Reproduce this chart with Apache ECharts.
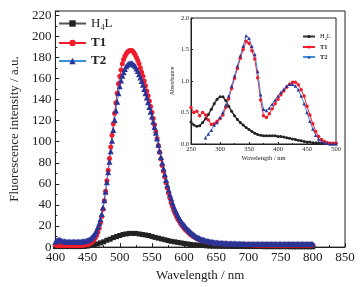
<!DOCTYPE html>
<html>
<head>
<meta charset="utf-8">
<script src="https://cdn.jsdelivr.net/npm/echarts@6/dist/echarts.min.js"></script>
<style>
  html, body { margin: 0; padding: 0; background: #fff; }
  #main { width: 360px; height: 287px; }
</style>
</head>
<body>
<div id="main"></div>
<script>
// emission spectra of T1 / T2, 400-800 nm every 2 nm
const emStart = 400, emStep = 2;
const emT1 = [
  2, 2, 1.8, 1.6, 1.5, 1.5, 1.5, 1.5, 1.5, 1.5, 1.5, 1.5, 1.5, 1.5, 1.5, 1.5, 1.5, 1.5, 1.5, 1.6, 1.7, 1.8, 1.9, 2, 2.2,
  2.5, 3, 3.5, 4.3, 5.5, 7, 8.8, 11, 14, 18, 23, 29, 36, 44, 53, 63, 73, 84, 95, 106, 117, 127, 137, 146, 155,
  162, 168, 174, 178, 181, 183.5, 185, 186, 186.5, 186.5, 186, 184.5, 182.5, 180, 177, 174, 170, 166, 162, 157.5, 153, 148, 143.5, 138.5, 133.5,
  128, 122, 116, 109.5, 103, 96.5, 90, 83.5, 77.5, 72, 66.5, 61, 56, 51, 46.5, 42, 38.5, 35, 32, 29.5, 27, 25, 23, 21, 19.5,
  18, 16.8, 15.6, 14.4, 13.2, 12, 11.2, 10.4, 9.6, 8.8, 8, 7.6, 7.2, 6.8, 6.4, 6, 5.6, 5.2, 4.9, 4.7, 4.5, 4.3, 4.1, 3.9, 3.7,
  3.6, 3.5, 3.4, 3.3, 3.2, 3.1, 3, 2.9, 2.9, 2.8, 2.8, 2.7, 2.7, 2.6, 2.6, 2.6, 2.5, 2.5, 2.5, 2.4, 2.4, 2.4, 2.3, 2.3, 2.3,
  2.2, 2.2, 2.2, 2.2, 2.1, 2.1, 2.1, 2.1, 2.1, 2.1, 2.1, 2, 2, 2, 2, 2, 2, 2, 2, 2, 2, 2, 2, 2, 2,
  2, 2, 2, 2, 2, 2, 2, 2, 2, 2, 2, 2, 2, 2, 2, 2, 2, 2, 2, 2, 2, 2, 2, 2, 2, 2];
const emT2 = [
  5, 6, 7, 7, 6.5, 6, 5.5, 5.5, 5.2, 5, 5, 5, 5, 5, 5, 5, 5, 5, 5, 5, 5.2, 5.4, 5.6, 5.8, 6,
  6.3, 7, 7.8, 8.8, 10, 11.5, 13.5, 16, 19, 22.5, 26.5, 31.5, 37.5, 44.5, 52.5, 61.5, 71, 81, 91, 101, 111, 120.5, 129.5, 138, 146,
  152.5, 158, 162.5, 166, 169, 171.5, 173, 174, 174.5, 174.5, 174, 173, 171.5, 169.5, 167, 164, 161, 157.5, 154, 150, 146, 142, 137.5, 133, 128.5,
  124, 119, 114, 108.5, 103, 97, 91.5, 85.5, 80, 74.5, 69, 64, 59, 54.5, 50, 46, 42, 38.5, 35.5, 33, 30.5, 28, 26, 24, 22.5,
  21, 19.5, 18, 16.8, 15.6, 14.4, 13.3, 12.3, 11.3, 10.4, 9.6, 8.9, 8.3, 7.8, 7.3, 6.9, 6.5, 6.1, 5.8, 5.5, 5.2, 5, 4.8, 4.6, 4.4,
  4.3, 4.2, 4.1, 4, 3.9, 3.8, 3.7, 3.6, 3.6, 3.5, 3.5, 3.4, 3.4, 3.3, 3.3, 3.3, 3.2, 3.2, 3.2, 3.1, 3.1, 3.1, 3, 3, 3,
  3, 3, 3, 3, 3, 3, 3, 3, 3, 3, 3, 3, 3, 3, 3, 3, 3, 3, 3, 3, 3, 3, 3, 3, 3,
  3, 3, 3, 3, 3, 3, 3, 3, 3, 3, 3, 3, 3, 3, 3, 3, 3, 3, 3, 3, 3, 3, 3, 3, 3, 3];

// emission of H4L, 400-800 nm every 5 nm
const h4lStart = 400, h4lStep = 5;
const emH4L = [0.5, 0.5, 0.5, 0.5, 0.5, 0.5, 0.5, 0.5, 0.5, 0.6,
  1, 1.5, 2, 3, 4, 5, 6.5, 7.5, 9, 10,
  11, 12, 12.5, 13, 13, 13, 12.5, 12, 11.5, 11,
  10, 9.2, 8.5, 7.7, 7, 6.2, 5.5, 5, 4.5, 4,
  3.5, 3, 2.5, 2.2, 2, 1.7, 1.5, 1.2, 1, 0.9,
  0.8, 0.8, 0.7, 0.7, 0.7, 0.6, 0.6, 0.6, 0.6, 0.5,
  0.5, 0.5, 0.5, 0.5, 0.5, 0.4, 0.4, 0.4, 0.4, 0.4,
  0.4, 0.4, 0.4, 0.3, 0.3, 0.3, 0.3, 0.3, 0.3, 0.3, 0.3];

// absorption spectra (inset), 250-500 nm every 5 nm
const abStart = 250, abStep = 5;
const abH4L = [0.35, 0.30, 0.28, 0.29, 0.34, 0.40, 0.47, 0.55, 0.64, 0.71,
  0.75, 0.75, 0.69, 0.60, 0.52, 0.45, 0.39, 0.34, 0.30, 0.26,
  0.23, 0.20, 0.17, 0.15, 0.14, 0.13, 0.13, 0.13, 0.13, 0.13,
  0.12, 0.12, 0.11, 0.10, 0.09, 0.08, 0.07, 0.06, 0.05, 0.04,
  0.03, 0.03, 0.02, 0.02, 0.02, 0.01, 0.01, 0.01, 0.01, 0.01, 0.01];
const abT1 = [0.58, 0.50, 0.52, 0.45, 0.50, 0.46, 0.38, 0.31, 0.32, 0.36,
  0.40, 0.46, 0.58, 0.72, 0.88, 1.04, 1.20, 1.36, 1.50, 1.63,
  1.60, 1.48, 1.35, 1.05, 0.70, 0.45, 0.42, 0.48, 0.56, 0.64,
  0.71, 0.78, 0.84, 0.90, 0.95, 0.98, 0.98, 0.94, 0.86, 0.76,
  0.60, 0.46, 0.32, 0.20, 0.12, 0.07, 0.04, 0.02, 0.01, 0.01, 0.01];
const abT2 = [null, null, null, null, null, 0.10, 0.16, 0.22, 0.30, 0.34,
  0.42, 0.50, 0.62, 0.76, 0.92, 1.08, 1.24, 1.40, 1.55, 1.72,
  1.68, 1.55, 1.42, 1.15, 0.78, 0.55, 0.53, 0.57, 0.63, 0.70,
  0.76, 0.82, 0.87, 0.92, 0.95, 0.95, 0.92, 0.86, 0.76, 0.64,
  0.50, 0.36, 0.24, 0.14, 0.08, 0.04, 0.02, 0.01, 0, 0, 0];

const toPairs = (arr, start, step) => arr.map((v, i) => [start + i * step, v]);

const font = 'Liberation Serif';
const ink = '#222';
const red = '#f01c2c';
const navy = '#2a3597';
const sky = '#3d8fdc';

const chart = echarts.init(document.getElementById('main'));

const legendFormatter = function (name) {
  const n = name.replace('a-', '');
  if (n === 'H4L') return '{n|H}{s|4}{n|L}';
  return '{b|' + n + '}';
};

function mkSeries(name, data, xi, color, lineColor, symbol, size, lw) {
  return {
    name: name,
    type: 'line',
    xAxisIndex: xi,
    yAxisIndex: xi,
    data: data,
    symbol: symbol,
    symbolSize: size,
    showAllSymbol: true,
    connectNulls: false,
    z: xi === 1 ? 10 : 2,
    lineStyle: { color: lineColor, width: lw || 1 },
    itemStyle: { color: color },
    emphasis: { disabled: true },
    animation: false
  };
}

const option = {
  animation: false,
  backgroundColor: '#fff',
  textStyle: { fontFamily: font },
  grid: [
    { left: 50, top: 11, width: 295, height: 237, show: true, borderColor: ink, borderWidth: 1 },
    { left: 191, top: 18, width: 145, height: 126, show: true, borderColor: ink, borderWidth: 1 }
  ],
  legend: [
    {
      data: ['H4L', 'T1', 'T2'],
      orient: 'vertical', left: 53, top: 12,
      itemWidth: 27, itemHeight: 8, itemGap: 5,
      formatter: legendFormatter,
      textStyle: {
        fontFamily: font, fontSize: 13, color: ink,
        rich: {
          n: { fontFamily: font, fontSize: 13, color: ink },
          s: { fontFamily: font, fontSize: 8, color: ink, padding: [8, 0, 0, 0] },
          b: { fontFamily: font, fontSize: 13, fontWeight: 'bold', color: ink }
        }
      }
    },
    {
      data: ['a-H4L', 'a-T1', 'a-T2'],
      orient: 'vertical', left: 297, top: 28, z: 12,
      itemWidth: 12, itemHeight: 4, itemGap: 3,
      formatter: legendFormatter,
      textStyle: {
        fontFamily: font, fontSize: 6.5, color: ink,
        rich: {
          n: { fontFamily: font, fontSize: 6.5, color: ink },
          s: { fontFamily: font, fontSize: 4, color: ink, padding: [4, 0, 0, 0] },
          b: { fontFamily: font, fontSize: 6.5, fontWeight: 'bold', color: ink }
        }
      }
    }
  ],
  xAxis: [
    {
      type: 'value', gridIndex: 0, min: 400, max: 850, interval: 50,
      name: 'Wavelength / nm', nameLocation: 'middle', nameGap: 17,
      nameTextStyle: { fontFamily: font, fontSize: 13, color: ink },
      axisLine: { lineStyle: { color: ink } },
      axisTick: { inside: true, length: 4, lineStyle: { color: ink } },
      minorTick: { show: true, splitNumber: 2, length: 2, lineStyle: { color: ink } },
      axisLabel: { fontFamily: font, fontSize: 13, color: ink, margin: 4 },
      splitLine: { show: false }
    },
    {
      type: 'value', gridIndex: 1, min: 250, max: 500, interval: 50,
      name: 'Wavelength / nm', nameLocation: 'middle', nameGap: 11,
      nameTextStyle: { fontFamily: font, fontSize: 6.5, color: ink },
      axisLine: { lineStyle: { color: ink } },
      axisTick: { inside: true, length: 2, lineStyle: { color: ink } },
      minorTick: { show: true, splitNumber: 2, length: 1, lineStyle: { color: ink } },
      axisLabel: { fontFamily: font, fontSize: 6.5, color: ink, margin: 2 },
      splitLine: { show: false }
    }
  ],
  yAxis: [
    {
      type: 'value', gridIndex: 0, min: 0, max: 224, interval: 20,
      name: 'Fluorescence intensity / a.u.', nameLocation: 'middle', nameGap: 33,
      nameTextStyle: { fontFamily: font, fontSize: 13, color: ink },
      axisLine: { show: true, lineStyle: { color: ink } },
      axisTick: { show: true, inside: true, length: 4, lineStyle: { color: ink } },
      minorTick: { show: true, splitNumber: 2, length: 2, lineStyle: { color: ink } },
      axisLabel: { fontFamily: font, fontSize: 13, color: ink, margin: 4, showMaxLabel: false },
      splitLine: { show: false }
    },
    {
      type: 'value', gridIndex: 1, min: 0, max: 2, interval: 0.5,
      name: 'Absorbance', nameLocation: 'middle', nameGap: 16,
      nameTextStyle: { fontFamily: font, fontSize: 6, color: ink },
      axisLine: { show: true, lineStyle: { color: ink } },
      axisTick: { show: true, inside: true, length: 2, lineStyle: { color: ink } },
      minorTick: { show: true, splitNumber: 2, length: 1, lineStyle: { color: ink } },
      axisLabel: { fontFamily: font, fontSize: 6.5, color: ink, margin: 2,
        formatter: v => v.toFixed(1) },
      splitLine: { show: false }
    }
  ],
  series: [
    mkSeries('H4L', toPairs(emH4L, h4lStart, h4lStep), 0, ink, '#555', 'rect', 5),
    mkSeries('T1', toPairs(emT1, emStart, emStep), 0, red, red, 'circle', 5),
    mkSeries('T2', toPairs(emT2, emStart, emStep), 0, navy, sky, 'triangle', 6),
    mkSeries('a-H4L', toPairs(abH4L, abStart, abStep), 1, ink, '#333', 'circle', 3, 1.5),
    mkSeries('a-T1', toPairs(abT1, abStart, abStep), 1, red, red, 'circle', 3.5, 1),
    mkSeries('a-T2', toPairs(abT2, abStart, abStep), 1, navy, sky, 'triangle', 3.5, 1)
  ]
};

chart.setOption(option);
</script>
</body>
</html>
